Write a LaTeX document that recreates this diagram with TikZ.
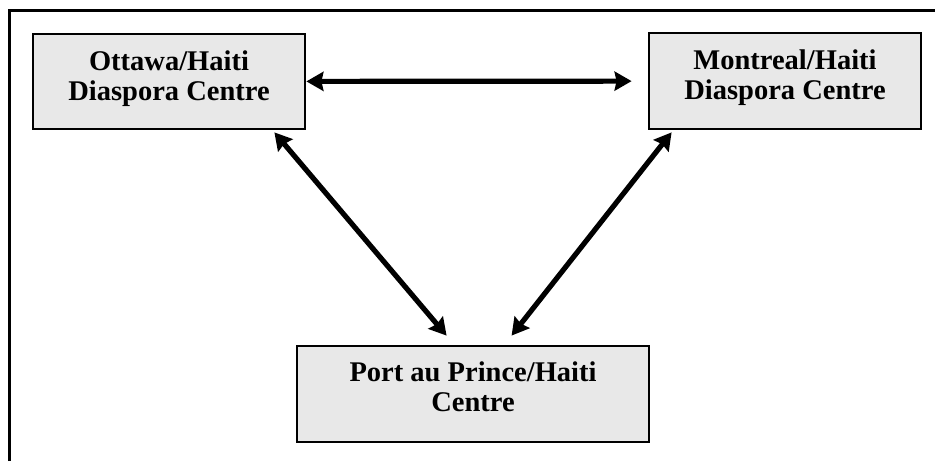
\documentclass[tikz,border=0pt]{standalone}
\usepackage{fontspec}
\setmainfont{Liberation Serif}
\usetikzlibrary{arrows.meta,calc}
\definecolor{boxfill}{HTML}{E8E8E8}
\begin{document}
\begin{tikzpicture}[x=1pt,y=-1pt,
  centrebox/.style={draw=black,line width=2.8pt,fill=boxfill,inner sep=0pt},
  lbl/.style={align=center,inner sep=0pt,font=\fontsize{28.5}{30}\selectfont\bfseries},
  arr/.style={line width=5.2pt,{Stealth[length=17pt,width=19pt,inset=2pt]}-{Stealth[length=17pt,width=19pt,inset=2pt]}}]
\useasboundingbox (0,0) rectangle (935,461);
% outer frame (left and top sides)
\draw[line width=3pt] (9,461) -- (9,10) -- (935,10);
% boxes
\node[centrebox,minimum width=272pt,minimum height=95pt] (ott) at (169,81.5) {};
\node[centrebox,minimum width=272pt,minimum height=96pt] (mon) at (785,81) {};
\node[centrebox,minimum width=352pt,minimum height=96pt] (port) at (473,394) {};
% labels
\node[lbl] (ottl) at ($(ott.center)+(0,-3)$) {Ottawa/Haiti\\Diaspora Centre};
\node[lbl] (monl) at ($(mon.center)+(0,-3)$) {Montreal/Haiti\\Diaspora Centre};
\node[lbl] (portl) at ($(port.center)+(0,-7)$) {Port au Prince/Haiti\\Centre};
% connectors
\draw[arr,shorten >=16pt] (ott) -- (mon);
\draw[arr] ($(ott.south east)+(-32,2)$) -- ($(port.north west)+(151,-9)$);
\draw[arr] ($(mon.south west)+(24,2)$) -- ($(port.north west)+(216,-9)$);
\end{tikzpicture}
\end{document}
